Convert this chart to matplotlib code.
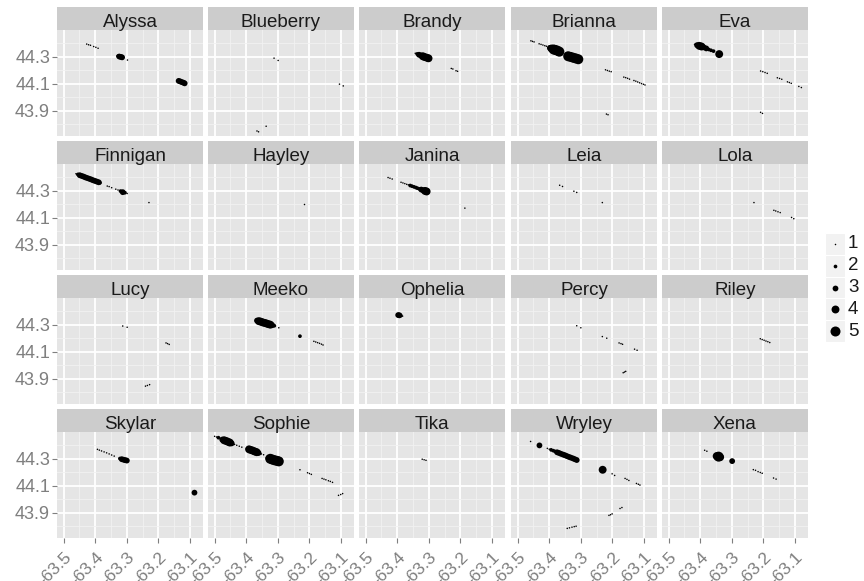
"Facet map of animal locations, sized by count (ggplot-style small multiples)."

import matplotlib
matplotlib.use("Agg")
from matplotlib import pyplot as plt
from matplotlib.patches import Rectangle

plt.rcParams['font.family'] = ['Liberation Sans', 'DejaVu Sans']

# ---------------------------------------------------------------------------
# Data: (longitude, latitude, size), one list per animal
# ---------------------------------------------------------------------------
animals = ["Alyssa", "Blueberry", "Brandy", "Brianna", "Eva",
           "Finnigan", "Hayley", "Janina", "Leia", "Lola",
           "Lucy", "Meeko", "Ophelia", "Percy", "Riley",
           "Skylar", "Sophie", "Tika", "Wryley", "Xena"]

alyssa = [(-63.427, 44.394, 1), (-63.421, 44.389, 1), (-63.415, 44.385, 1),
          (-63.405, 44.376, 1), (-63.398, 44.370, 1), (-63.391, 44.363, 1),
          (-63.328, 44.305, 2), (-63.324, 44.302, 3), (-63.319, 44.299, 3),
          (-63.315, 44.296, 3), (-63.298, 44.276, 1),
          (-63.136, 44.122, 3), (-63.131, 44.118, 3), (-63.126, 44.113, 3),
          (-63.121, 44.109, 3), (-63.117, 44.104, 3)]
blueberry = [(-63.312, 44.290, 1), (-63.299, 44.273, 1),
             (-63.105, 44.098, 1), (-63.093, 44.085, 1),
             (-63.366, 43.752, 1), (-63.361, 43.746, 1), (-63.337, 43.787, 1)]
brandy = [(-63.343, 44.326, 1), (-63.337, 44.321, 2), (-63.331, 44.315, 3),
          (-63.325, 44.310, 3), (-63.319, 44.304, 4), (-63.313, 44.298, 4),
          (-63.306, 44.293, 4), (-63.301, 44.289, 4),
          (-63.229, 44.214, 1), (-63.224, 44.210, 1),
          (-63.214, 44.197, 1), (-63.209, 44.193, 1)]
brianna = [(-63.458, 44.418, 1), (-63.453, 44.414, 1), (-63.448, 44.410, 1),
           (-63.432, 44.396, 1), (-63.426, 44.392, 1), (-63.420, 44.387, 1),
           (-63.414, 44.382, 1), (-63.409, 44.378, 1),
           (-63.398, 44.366, 3), (-63.393, 44.361, 4),
           (-63.386, 44.354, 5), (-63.380, 44.350, 5), (-63.374, 44.345, 5),
           (-63.368, 44.338, 5),
           (-63.340, 44.304, 5), (-63.332, 44.299, 5), (-63.324, 44.293, 5),
           (-63.316, 44.288, 5), (-63.308, 44.282, 5),
           (-63.222, 44.204, 1), (-63.216, 44.199, 1), (-63.210, 44.194, 1),
           (-63.204, 44.190, 1),
           (-63.164, 44.150, 1), (-63.158, 44.146, 1), (-63.152, 44.141, 1),
           (-63.146, 44.135, 1),
           (-63.132, 44.125, 1), (-63.126, 44.120, 1), (-63.120, 44.114, 1),
           (-63.114, 44.108, 1), (-63.108, 44.102, 1), (-63.102, 44.097, 1),
           (-63.097, 44.092, 1),
           (-63.219, 43.877, 1), (-63.214, 43.872, 1)]
eva = [(-63.418, 44.392, 1), (-63.410, 44.386, 3), (-63.403, 44.381, 4),
       (-63.396, 44.376, 4), (-63.389, 44.370, 3), (-63.381, 44.362, 3),
       (-63.373, 44.354, 2), (-63.366, 44.348, 2), (-63.358, 44.342, 2),
       (-63.340, 44.320, 4),
       (-63.209, 44.195, 1), (-63.202, 44.190, 1), (-63.195, 44.184, 1),
       (-63.188, 44.178, 1),
       (-63.156, 44.145, 1), (-63.149, 44.140, 1), (-63.142, 44.134, 1),
       (-63.124, 44.115, 1), (-63.118, 44.110, 1), (-63.112, 44.104, 1),
       (-63.088, 44.081, 1), (-63.080, 44.073, 1),
       (-63.209, 43.890, 1), (-63.203, 43.882, 1)]
finnigan = [(-63.461, 44.426, 1), (-63.455, 44.421, 2), (-63.449, 44.415, 3),
            (-63.443, 44.410, 3), (-63.437, 44.405, 3), (-63.431, 44.399, 3),
            (-63.425, 44.394, 3), (-63.419, 44.389, 3), (-63.413, 44.384, 3),
            (-63.407, 44.378, 3), (-63.401, 44.373, 3), (-63.395, 44.368, 3),
            (-63.389, 44.363, 3), (-63.385, 44.359, 2),
            (-63.362, 44.335, 1), (-63.356, 44.331, 1), (-63.348, 44.323, 1),
            (-63.335, 44.312, 1), (-63.328, 44.306, 1), (-63.320, 44.298, 2),
            (-63.313, 44.290, 3), (-63.306, 44.286, 2), (-63.299, 44.280, 1),
            (-63.230, 44.213, 1)]
hayley = [(-63.217, 44.204, 1)]
janina = [(-63.429, 44.398, 1), (-63.423, 44.393, 1), (-63.416, 44.387, 1),
          (-63.388, 44.363, 1), (-63.382, 44.358, 1), (-63.376, 44.353, 1),
          (-63.370, 44.348, 1), (-63.365, 44.344, 1), (-63.359, 44.339, 2),
          (-63.353, 44.334, 2), (-63.347, 44.329, 2), (-63.341, 44.324, 2),
          (-63.336, 44.319, 2), (-63.330, 44.314, 2), (-63.324, 44.309, 3),
          (-63.318, 44.304, 3), (-63.312, 44.299, 4), (-63.307, 44.295, 4),
          (-63.186, 44.172, 1)]
leia = [(-63.367, 44.341, 1), (-63.358, 44.332, 1),
        (-63.322, 44.297, 1), (-63.313, 44.288, 1), (-63.232, 44.213, 1)]
lola = [(-63.230, 44.213, 1),
        (-63.167, 44.156, 1), (-63.161, 44.151, 1), (-63.154, 44.145, 1),
        (-63.147, 44.139, 1), (-63.111, 44.103, 1), (-63.104, 44.094, 1)]
lucy = [(-63.313, 44.291, 1), (-63.299, 44.282, 1),
        (-63.176, 44.166, 1), (-63.171, 44.161, 1), (-63.166, 44.155, 1),
        (-63.241, 43.847, 1), (-63.235, 43.852, 1), (-63.228, 43.858, 1)]
meeko = [(-63.366, 44.331, 3), (-63.360, 44.327, 4), (-63.354, 44.323, 4),
         (-63.348, 44.318, 4), (-63.342, 44.314, 4), (-63.336, 44.310, 4),
         (-63.330, 44.305, 4), (-63.324, 44.301, 4), (-63.318, 44.297, 3),
         (-63.311, 44.293, 2), (-63.297, 44.278, 1),
         (-63.230, 44.216, 2),
         (-63.186, 44.178, 1), (-63.180, 44.173, 1), (-63.174, 44.168, 1),
         (-63.168, 44.163, 1), (-63.162, 44.157, 1), (-63.157, 44.151, 1)]
ophelia = [(-63.397, 44.372, 3), (-63.393, 44.370, 3), (-63.389, 44.368, 2),
           (-63.383, 44.364, 1)]
percy = [(-63.313, 44.293, 1), (-63.300, 44.278, 1),
         (-63.232, 44.213, 1), (-63.218, 44.201, 1),
         (-63.179, 44.166, 1), (-63.173, 44.161, 1), (-63.168, 44.156, 1),
         (-63.130, 44.120, 1), (-63.122, 44.112, 1),
         (-63.166, 43.946, 1), (-63.162, 43.951, 1), (-63.158, 43.956, 1)]
riley = [(-63.210, 44.197, 1), (-63.204, 44.191, 1), (-63.198, 44.186, 1),
         (-63.192, 44.180, 1), (-63.186, 44.175, 1), (-63.180, 44.169, 1)]
skylar = [(-63.393, 44.370, 1), (-63.387, 44.364, 1), (-63.380, 44.358, 1),
          (-63.372, 44.351, 1), (-63.364, 44.344, 1), (-63.356, 44.336, 1),
          (-63.348, 44.328, 1), (-63.340, 44.320, 1),
          (-63.322, 44.302, 2), (-63.316, 44.297, 3), (-63.310, 44.293, 3),
          (-63.305, 44.290, 3), (-63.300, 44.287, 3),
          (-63.086, 44.050, 3)]
sophie = [(-63.500, 44.466, 1), (-63.494, 44.461, 1), (-63.488, 44.456, 2),
          (-63.476, 44.442, 3), (-63.470, 44.437, 4), (-63.464, 44.432, 4),
          (-63.458, 44.426, 4), (-63.452, 44.420, 4), (-63.446, 44.414, 3),
          (-63.437, 44.406, 1), (-63.430, 44.400, 1), (-63.422, 44.393, 1),
          (-63.414, 44.386, 1),
          (-63.396, 44.374, 2), (-63.391, 44.370, 4), (-63.385, 44.365, 4),
          (-63.379, 44.360, 4), (-63.373, 44.354, 4), (-63.367, 44.349, 4),
          (-63.361, 44.343, 3),
          (-63.352, 44.336, 1), (-63.345, 44.330, 1),
          (-63.330, 44.305, 3), (-63.324, 44.300, 5), (-63.317, 44.294, 5),
          (-63.310, 44.289, 5), (-63.303, 44.285, 5), (-63.297, 44.281, 5),
          (-63.230, 44.219, 1),
          (-63.206, 44.197, 1), (-63.200, 44.191, 1), (-63.194, 44.185, 1),
          (-63.160, 44.155, 1), (-63.154, 44.150, 1), (-63.148, 44.145, 1),
          (-63.140, 44.138, 1), (-63.134, 44.133, 1), (-63.127, 44.126, 1),
          (-63.108, 44.030, 1), (-63.101, 44.036, 1), (-63.095, 44.043, 1)]
tika = [(-63.321, 44.297, 1), (-63.315, 44.293, 1), (-63.309, 44.289, 1)]
wryley = [(-63.459, 44.428, 1), (-63.431, 44.399, 3),
          (-63.406, 44.377, 1), (-63.400, 44.371, 1), (-63.394, 44.366, 2),
          (-63.387, 44.360, 2), (-63.381, 44.354, 2), (-63.375, 44.348, 3),
          (-63.369, 44.343, 3), (-63.363, 44.337, 3), (-63.356, 44.331, 3),
          (-63.350, 44.326, 3), (-63.344, 44.320, 3), (-63.338, 44.314, 3),
          (-63.332, 44.309, 3), (-63.325, 44.303, 3), (-63.319, 44.297, 3),
          (-63.313, 44.291, 3),
          (-63.231, 44.219, 4),
          (-63.201, 44.189, 1), (-63.193, 44.177, 1),
          (-63.160, 44.155, 1), (-63.154, 44.148, 1), (-63.148, 44.140, 1),
          (-63.124, 44.118, 1), (-63.118, 44.112, 1), (-63.113, 44.106, 1),
          (-63.211, 43.882, 1), (-63.206, 43.887, 1), (-63.201, 43.893, 1),
          (-63.176, 43.933, 1), (-63.170, 43.940, 1),
          (-63.343, 43.786, 1), (-63.336, 43.790, 1), (-63.328, 43.795, 1),
          (-63.321, 43.799, 1), (-63.315, 43.802, 1)]
xena = [(-63.386, 44.363, 1), (-63.379, 44.356, 1),
        (-63.348, 44.320, 4), (-63.342, 44.316, 5), (-63.337, 44.312, 4),
        (-63.299, 44.283, 3),
        (-63.232, 44.220, 1), (-63.225, 44.215, 1), (-63.217, 44.205, 1),
        (-63.210, 44.199, 1), (-63.204, 44.193, 1),
        (-63.168, 44.158, 1), (-63.160, 44.150, 1)]

points = dict(zip(animals, [alyssa, blueberry, brandy, brianna, eva,
                            finnigan, hayley, janina, leia, lola,
                            lucy, meeko, ophelia, percy, riley,
                            skylar, sophie, tika, wryley, xena]))

x_ticks = [-63.5, -63.4, -63.3, -63.2, -63.1]
x_minor = [-63.45, -63.35, -63.25, -63.15]
y_ticks = [43.9, 44.1, 44.3]
y_minor = [43.8, 44.0, 44.2, 44.4]
legend_sizes = [1, 2, 3, 4, 5]

# marker area (pt^2) for each size value
area = {1: 1.2, 2: 7.1, 3: 17.4, 4: 32.4, 5: 51.8}

# ---------------------------------------------------------------------------
# Layout (pixels of an 864x581 canvas)
# ---------------------------------------------------------------------------
W, H = 864, 581
col_left = [57, 208, 359, 511, 662]
row_top = [30, 164, 298, 432]
pw, ph, strip_h = 146, 106, 23

GREY_TXT = "#7F7F7F"
fig = plt.figure(figsize=(W / 100, H / 100), dpi=100)

for i, name in enumerate(animals):
    r, c = divmod(i, 5)
    L, T = col_left[c], row_top[r]
    ax = fig.add_axes([L / W, 1 - (T + ph) / H, pw / W, ph / H])
    ax.set_facecolor("#E5E5E5")
    ax.set_xlim(-63.521, -63.059)
    ax.set_ylim(43.715, 44.498)
    ax.set_xticks(x_ticks)
    ax.set_yticks(y_ticks)
    ax.set_xticks(x_minor, minor=True)
    ax.set_yticks(y_minor, minor=True)
    ax.grid(which="major", color="white", linewidth=1.3)
    ax.grid(which="minor", color="#F2F2F2", linewidth=0.6)
    ax.set_axisbelow(True)
    for s in ax.spines.values():
        s.set_visible(False)
    ax.tick_params(which="minor", length=0)
    ax.tick_params(which="major", length=3.5, width=0.8, color=GREY_TXT,
                   labelcolor=GREY_TXT, labelsize=13)
    ax.tick_params(axis="y", pad=1.5)

    if c == 0:
        ax.set_yticklabels([f"{v:.1f}" for v in y_ticks])
    else:
        ax.tick_params(axis="y", length=0, labelleft=False)
    if r == 3:
        ax.tick_params(axis="x", pad=5)
        ax.set_xticklabels([f"{v:.1f}" for v in x_ticks], rotation=45,
                           ha="right", va="top", rotation_mode="anchor",
                           fontsize=12.5)
    else:
        ax.tick_params(axis="x", length=0, labelbottom=False)

    lon = [p[0] for p in points[name]]
    lat = [p[1] for p in points[name]]
    sz = [area[p[2]] for p in points[name]]
    ax.scatter(lon, lat, s=sz, color="black", linewidths=0, zorder=3)

    # facet strip
    sax = fig.add_axes([L / W, 1 - T / H, pw / W, strip_h / H])
    sax.set_facecolor("#CCCCCC")
    sax.set_xticks([])
    sax.set_yticks([])
    for s in sax.spines.values():
        s.set_visible(False)
    sax.text(0.5, 0.15, name, ha="center", va="baseline", fontsize=13.5,
             color="#1A1A1A", transform=sax.transAxes)

# ---------------------------------------------------------------------------
# Size legend
# ---------------------------------------------------------------------------
lax = fig.add_axes([825 / W, 1 - 342 / H, 20 / W, 109 / H])
lax.set_xlim(0, 1)
lax.set_ylim(len(legend_sizes) + 0.5, 0.5)
lax.axis("off")
for k, v in enumerate(legend_sizes, start=1):
    lax.add_patch(Rectangle((0, k - 0.5), 1, 1, facecolor="#F2F2F2",
                            edgecolor="white", linewidth=0.8))
    lax.scatter([0.5], [k], s=area[v], color="black", linewidths=0, zorder=3)
    lax.text(1.15, k, str(v), ha="left", va="center", fontsize=13.5,
             color="#1A1A1A", clip_on=False)

fig.savefig("out.png", dpi=100)
